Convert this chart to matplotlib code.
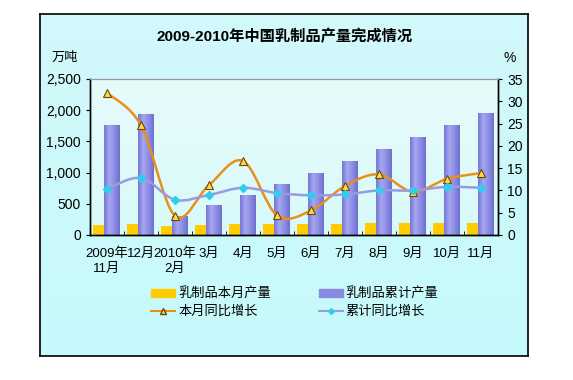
import numpy as np
import matplotlib
matplotlib.use("Agg")
import matplotlib.pyplot as plt
from matplotlib.path import Path
from matplotlib.patches import PathPatch, Rectangle
from matplotlib.lines import Line2D
from matplotlib.colors import LinearSegmentedColormap
from matplotlib.ticker import FuncFormatter

plt.rcParams['font.family'] = ['Liberation Sans', 'Noto Sans CJK SC', 'DejaVu Sans']

# data
months = ["2009年\n11月", "12月", "2010年\n2月", "3月", "4月", "5月",
          "6月", "7月", "8月", "9月", "10月", "11月"]
monthly_output = [166, 182, 150, 166, 182, 182, 182, 182, 198, 198, 198, 198]    # 万吨
cumulative_output = [1765, 1940, 310, 482, 642, 819, 990, 1188, 1376, 1568, 1761, 1959]
monthly_yoy = [31.9, 24.6, 4.3, 11.2, 16.6, 4.4, 5.5, 11.0, 13.6, 9.7, 12.6, 13.9]  # %
cumulative_yoy = [10.3, 12.8, 7.9, 9.0, 10.6, 9.4, 8.9, 9.1, 10.0, 10.0, 10.8, 10.6]


def smooth_path(xs, ys):
    # Excel-style smoothed line: cubic bezier through every point
    verts = [(xs[0], ys[0])]
    codes = [Path.MOVETO]
    n = len(xs)
    for i in range(n - 1):
        x0, y0 = (xs[i - 1], ys[i - 1]) if i > 0 else (xs[i], ys[i])
        x3, y3 = (xs[i + 2], ys[i + 2]) if i + 2 < n else (xs[i + 1], ys[i + 1])
        c1 = (xs[i] + (xs[i + 1] - x0) / 6, ys[i] + (ys[i + 1] - y0) / 6)
        c2 = (xs[i + 1] - (x3 - xs[i]) / 6, ys[i + 1] - (y3 - ys[i]) / 6)
        verts += [c1, c2, (xs[i + 1], ys[i + 1])]
        codes += [Path.CURVE4] * 3
    return Path(verts, codes)


fig = plt.figure(figsize=(5.73, 3.8), dpi=100)
fig.patch.set_facecolor("white")

# outer frame with light cyan background
bg = fig.add_axes([40 / 573, 1 - 356 / 380, 488 / 573, 342 / 380])
bg.imshow(np.linspace(0, 1, 100).reshape(-1, 1), aspect="auto", extent=[0, 1, 0, 1],
          cmap=LinearSegmentedColormap.from_list("bgc", ["#d2f8fa", "#c6fafc"]))
bg.set_xticks([])
bg.set_yticks([])
for s in bg.spines.values():
    s.set_linewidth(1.2)
    s.set_color("black")

ax = fig.add_axes([90 / 573, 1 - 235 / 380, 408 / 573, 156 / 380])
ax.set_zorder(2)
ax.patch.set_alpha(0)
ax2 = ax.twinx()
ax2.set_zorder(3)

x = np.arange(len(months))

# plot area background
pa = fig.add_axes(ax.get_position())
pa.set_zorder(1)
pa.imshow(np.linspace(0, 1, 100).reshape(-1, 1), aspect="auto", extent=[0, 1, 0, 1],
          cmap=LinearSegmentedColormap.from_list("pac", ["#e8fbfb", "#d8fafa"]))
pa.axis("off")

ax.bar(x - 0.25, monthly_output, width=0.3, color="#ffcc00", zorder=2)
purple = ax.bar(x + 0.13, cumulative_output, width=0.46, color="#8a8ae2", zorder=2)

# horizontal shading on the cumulative bars
bar_cmap = LinearSegmentedColormap.from_list("bar", ["#7676d6", "#a6a6f0", "#8c8ce4", "#6e6ed0"])
for b in purple:
    bx, by = b.get_x(), b.get_y()
    im = ax.imshow(np.linspace(0, 1, 64).reshape(1, -1), cmap=bar_cmap, aspect="auto",
                   extent=[bx, bx + b.get_width(), by, by + b.get_height()], zorder=2.1)
    im.set_clip_path(b)

ax.set_xlim(-0.5, len(months) - 0.5)
ax.set_ylim(0, 2500)
ax.set_yticks(range(0, 2501, 500))
ax.yaxis.set_major_formatter(FuncFormatter(lambda v, p: f"{int(v):,}"))
ax.set_xticks(x)
ax.set_xticklabels(months, fontsize=9.5, linespacing=1.35)
ax.set_xticks(np.arange(-0.5, len(months), 1), minor=True)
ax.tick_params(axis="x", which="major", length=0, pad=9)
ax.tick_params(axis="x", which="minor", length=3, direction="in")
ax.tick_params(axis="y", labelsize=10, length=3, direction="out")

ax2.set_ylim(0, 35)
ax2.set_yticks(range(0, 36, 5))
ax2.tick_params(axis="y", labelsize=10, length=3, direction="out")

ax2.add_patch(PathPatch(smooth_path(x, monthly_yoy), facecolor="none",
                        edgecolor="#e8901c", linewidth=1.8, zorder=3))
ax2.plot(x, monthly_yoy, linestyle="none", marker="^", markersize=6,
         markerfacecolor="#ffd84a", markeredgecolor="#6b4a00", markeredgewidth=0.8, zorder=4)
ax2.add_patch(PathPatch(smooth_path(x, cumulative_yoy), facecolor="none",
                        edgecolor="#9a9ae0", linewidth=1.8, zorder=3))
ax2.plot(x, cumulative_yoy, linestyle="none", marker="D", markersize=4,
         markerfacecolor="#33ccee", markeredgecolor="#33ccee", zorder=4)

for a in (ax, ax2):
    a.spines["top"].set_color("#999999")
    a.spines["top"].set_linewidth(0.8)
    for s in ("left", "right", "bottom"):
        a.spines[s].set_color("black")
        a.spines[s].set_linewidth(1.0)

fig.text(285 / 573, 1 - 37 / 380, "2009-2010年中国乳制品产量完成情况",
         ha="center", va="center", fontsize=11, fontweight="bold")
fig.text(65 / 573, 1 - 58 / 380, "万吨", ha="center", va="center", fontsize=9.5)
fig.text(510 / 573, 1 - 58 / 380, "%", ha="center", va="center", fontsize=10)

handles = [
    Rectangle((0, 0), 1, 1, color="#ffcc00"),
    Line2D([], [], color="#e8901c", marker="^", markersize=4.5,
           markerfacecolor="#ffd84a", markeredgecolor="#6b4a00"),
    Rectangle((0, 0), 1, 1, color="#8a8ae2"),
    Line2D([], [], color="#9a9ae0", marker="D", markersize=3,
           markerfacecolor="#33ccee", markeredgecolor="#33ccee"),
]
labels = ["乳制品本月产量", "本月同比增长", "乳制品累计产量", "累计同比增长"]
fig.legend(handles, labels, ncol=2, loc="center", bbox_to_anchor=(295 / 573, 1 - 303 / 380),
           frameon=False, fontsize=9.5, handlelength=1.8, handleheight=0.55,
           columnspacing=3.6, labelspacing=0.35, handletextpad=0.25)

fig.savefig("out.png", dpi=100)
